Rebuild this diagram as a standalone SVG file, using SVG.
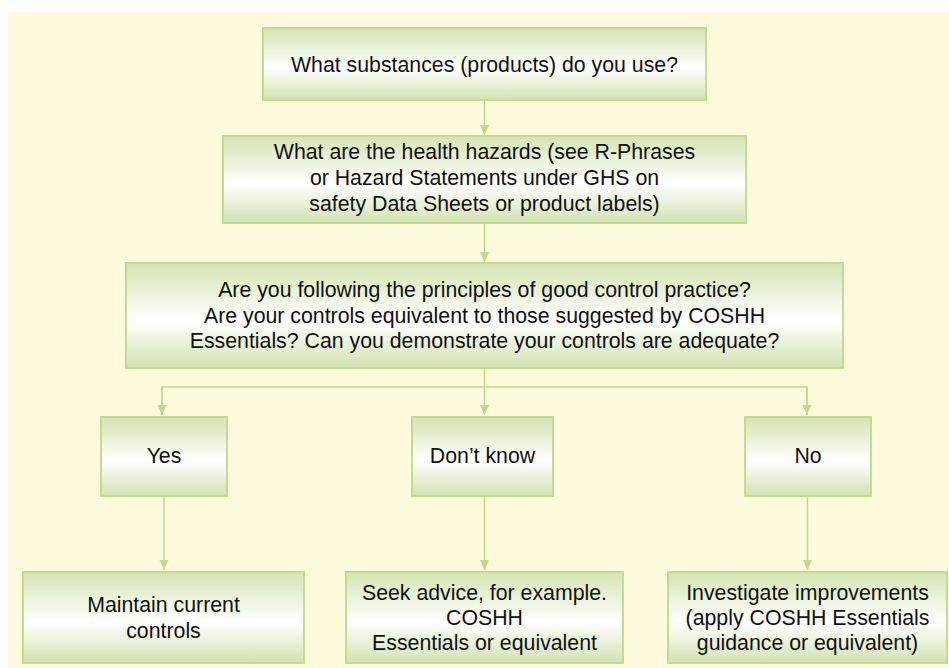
<svg xmlns="http://www.w3.org/2000/svg" width="949" height="668" viewBox="0 0 949 668">
<defs>
<linearGradient id="g" x1="0" y1="0" x2="0" y2="1">
<stop offset="0" stop-color="#D4E4B3"/>
<stop offset="0.55" stop-color="#FFFFFF"/>
<stop offset="1" stop-color="#D2E3B0"/>
</linearGradient>
<marker id="ah" markerWidth="10" markerHeight="12" refX="10" refY="5" orient="auto" markerUnits="userSpaceOnUse" viewBox="0 0 10 10">
<path d="M0,0.5 L10,5 L0,9.5 Z" fill="#BFDA8C"/>
</marker>
<style>
.box{fill:url(#g);stroke:#C2DC92;stroke-width:2}
.t{font-family:"Liberation Sans",Arial,Helvetica,sans-serif;font-size:21.3px;fill:#111;text-anchor:middle}
.c{fill:none;stroke:#BFDA8C;stroke-width:1.5}
</style>
</defs>
<rect x="8" y="12" width="941" height="656" fill="#FEFADC"/>
<g id="connectors">
<line class="c" x1="484.5" y1="101" x2="484.5" y2="135" marker-end="url(#ah)"/>
<line class="c" x1="484.5" y1="223" x2="484.5" y2="262" marker-end="url(#ah)"/>
<polyline class="c" points="484.5,369 484.5,387"/>
<polyline class="c" points="162,415 162,387 807,387 807,415"/>
<line class="c" x1="162" y1="387" x2="162" y2="415" marker-end="url(#ah)"/>
<line class="c" x1="484.5" y1="387" x2="484.5" y2="415" marker-end="url(#ah)"/>
<line class="c" x1="807" y1="387" x2="807" y2="415" marker-end="url(#ah)"/>
<line class="c" x1="164" y1="497" x2="164" y2="570" marker-end="url(#ah)"/>
<line class="c" x1="484.5" y1="497" x2="484.5" y2="570" marker-end="url(#ah)"/>
<line class="c" x1="807.5" y1="497" x2="807.5" y2="570" marker-end="url(#ah)"/>
</g>
<g id="n1">
<rect class="box" x="263" y="28" width="443" height="72"/>
<text class="t" x="484.5" y="72">What substances (products) do you use?</text>
</g>
<g id="n2">
<rect class="box" x="223" y="136" width="523" height="87"/>
<text class="t" x="484.5" y="159">What are the health hazards (see R-Phrases</text>
<text class="t" x="484.5" y="185">or Hazard Statements under GHS on</text>
<text class="t" x="484.5" y="211">safety Data Sheets or product labels)</text>
</g>
<g id="n3">
<rect class="box" x="126" y="263" width="717" height="105"/>
<text class="t" x="484.5" y="297">Are you following the principles of good control practice?</text>
<text class="t" x="484.5" y="322.5">Are your controls equivalent to those suggested by COSHH</text>
<text class="t" x="484.5" y="348">Essentials? Can you demonstrate your controls are adequate?</text>
</g>
<g id="yes">
<rect class="box" x="101" y="417" width="126" height="79"/>
<text class="t" x="164" y="463">Yes</text>
</g>
<g id="dontknow">
<rect class="box" x="412" y="417" width="141" height="79"/>
<text class="t" x="482.5" y="463">Don’t know</text>
</g>
<g id="no">
<rect class="box" x="745" y="417" width="126" height="79"/>
<text class="t" x="808" y="463">No</text>
</g>
<g id="maintain">
<rect class="box" x="23" y="572" width="281" height="91"/>
<text class="t" x="163.5" y="612">Maintain current</text>
<text class="t" x="163.5" y="638">controls</text>
</g>
<g id="seek">
<rect class="box" x="346" y="572" width="277" height="91"/>
<text class="t" x="484.5" y="600">Seek advice, for example.</text>
<text class="t" x="484.5" y="625">COSHH</text>
<text class="t" x="484.5" y="650">Essentials or equivalent</text>
</g>
<g id="investigate">
<rect class="box" x="668" y="572" width="279" height="91"/>
<text class="t" x="807.5" y="600">Investigate improvements</text>
<text class="t" x="807.5" y="625">(apply COSHH Essentials</text>
<text class="t" x="807.5" y="650">guidance or equivalent)</text>
</g>
</svg>
